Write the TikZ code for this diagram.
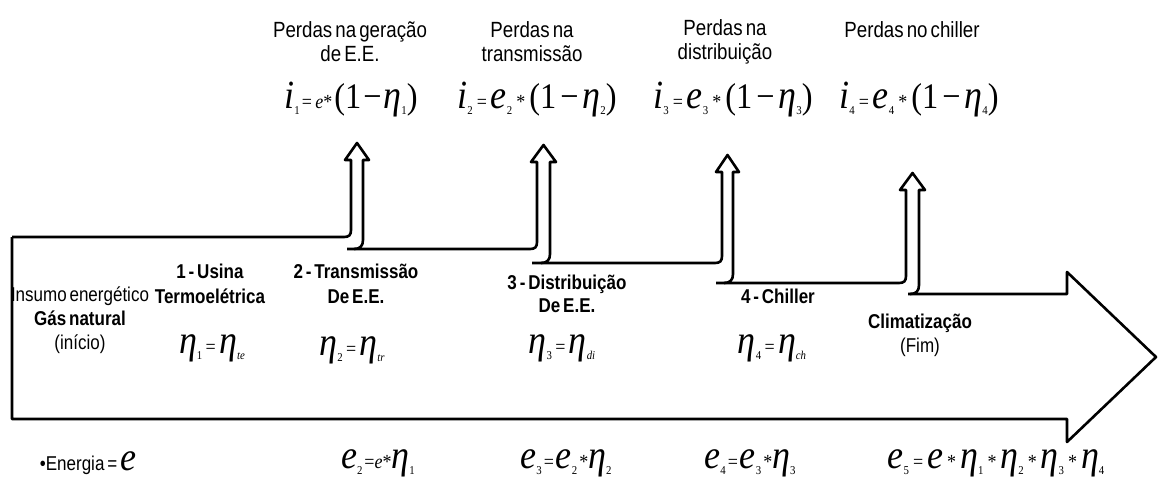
\documentclass[tikz,border=0pt]{standalone}
\usepackage{fontspec}
\setmainfont{Liberation Sans}
\newfontfamily\nar[FakeStretch=0.85,WordSpace=0.6]{Liberation Sans}
\newfontfamily\serf[FakeStretch=0.9]{Liberation Serif}
\newcommand\bv[1]{{\fontsize{40}{40}\selectfont\serf\itshape #1}}
\newcommand\bu[1]{{\fontsize{36}{36}\selectfont\serf #1}}
\newcommand\sv[1]{{\fontsize{20}{20}\selectfont\serf #1}}
\newcommand\sbs[1]{\raisebox{-6pt}{\fontsize{12}{12}\selectfont\serf #1}}
\newcommand\gp{\hspace{2pt}}
\newcommand\gq{\hspace{4pt}}
\newcommand\stemarrow[6]{%
 \draw[ol] (#1,#2) -- ({#3-7},#2) .. controls ({#3-2},#2) and (#3,{#2-2}) .. (#3,{#2-7})
   -- (#3,{#5+17}) -- ({#3-6},{#5+17}) -- ({(#3+#4)/2},#5) -- ({#4+6},{#5+17}) -- (#4,{#5+17})
   -- (#4,{#6-9}) .. controls (#4,{#6-3}) and ({#4-3},#6) .. ({#4-9},#6);}
\begin{document}
\begin{tikzpicture}[x=1pt,y=-1pt,
  ol/.style={line width=2.6pt, line join=round},
  lbl/.style={font=\nar\fontsize{20}{24}\selectfont, align=center, inner sep=0pt},
  top/.style={font=\nar\fontsize{22}{24}\selectfont, align=center, inner sep=0pt},
  ttl/.style={font=\nar\bfseries\fontsize{20}{25}\selectfont, align=center, inner sep=0pt},
  eq/.style={inner sep=0pt}]
\useasboundingbox (0,0) rectangle (1158,488);
% body
\draw[ol] (908,294) -- (1067,294) -- (1067,272) -- (1156,357) -- (1067,442) -- (1067,419) -- (12,419) -- (12,237);
\stemarrow{12}{237}{351}{363}{143}{249}
\stemarrow{347}{249}{537}{550}{145}{263}
\stemarrow{532}{263}{722}{733}{155}{283}
\stemarrow{716}{283}{906}{919}{173}{294}
% top labels
\node[top] (p1) at (350,42) {Perdas na geração\\de E.E.};
\node[top] (p2) at (532,42) {Perdas na\\transmissão};
\node[top] (p3) at (725,42) {Perdas na\\distribuição};
\node[top] (p4) at (912,30) {Perdas no chiller};
% loss formulas
\node[eq] (i1) at (351,100) {\bv{i}\sbs{1}\gp\sv{=\,\itshape e\upshape *}\gp\bu{(1\gp−}\gp\bv{η}\sbs{1}\bu{)}};
\node[eq] (i2) at (537,100) {\bv{i}\sbs{2}\gq\sv{=}\gq\bv{e}\sbs{2}\gq\sv{*}\gq\bu{(1\gq−}\gq\bv{η}\sbs{2}\bu{)}};
\node[eq] (i3) at (733,100) {\bv{i}\sbs{3}\gq\sv{=}\gq\bv{e}\sbs{3}\gq\sv{*}\gq\bu{(1\gq−}\gq\bv{η}\sbs{3}\bu{)}};
\node[eq] (i4) at (919,100) {\bv{i}\sbs{4}\gq\sv{=}\gq\bv{e}\sbs{4}\gq\sv{*}\gq\bu{(1\gq−}\gq\bv{η}\sbs{4}\bu{)}};
% stage texts
\node[lbl] (in) at (80,320) {Insumo energético\\{\bfseries Gás natural}\\(início)};
\node[ttl] (s1) at (210,284) {1 - Usina\\Termoelétrica};
\node[ttl] (s2) at (356,284) {2 - Transmissão\\De E.E.};
\node[ttl, font=\nar\bfseries\fontsize{20}{23}\selectfont] (s3) at (567,294) {3 - Distribuição\\De E.E.};
\node[ttl] (s4) at (778,296) {4 - Chiller};
\node[lbl] (s5) at (920,335) {{\bfseries Climatização}\\(Fim)};
% efficiencies
\node[eq] (h1) at (212,348) {\bv{η}\sbs{1}\sv{\,=\,}\bv{η}\sbs{\itshape te}};
\node[eq] (h2) at (352,350) {\bv{η}\sbs{2}\sv{\,=\,}\bv{η}\sbs{\itshape tr}};
\node[eq] (h3) at (562,348) {\bv{η}\sbs{3}\sv{\,=\,}\bv{η}\sbs{\itshape di}};
\node[eq] (h4) at (772,348) {\bv{η}\sbs{4}\sv{\,=\,}\bv{η}\sbs{\itshape ch}};
% energies
\node[eq] (en) at (88,463) {{\nar\fontsize{20}{20}\selectfont •Energia = }\bv{e}};
\node[eq] (e2) at (378,463) {\bv{e}\sbs{2}\gp\sv{=\itshape e\upshape *}\bv{η}\sbs{1}};
\node[eq] (e3) at (566,463) {\bv{e}\sbs{3}\gp\sv{=}\gp\bv{e}\sbs{2}\gp\sv{*}\bv{η}\sbs{2}};
\node[eq] (e4) at (750,463) {\bv{e}\sbs{4}\gp\sv{=}\gp\bv{e}\sbs{3}\gp\sv{*}\bv{η}\sbs{3}};
\node[eq] (e5) at (996,463) {\bv{e}\sbs{5}\gq\sv{=}\gq\bv{e}\gq\sv{*}\gq\bv{η}\sbs{1}\gq\sv{*}\gq\bv{η}\sbs{2}\gq\sv{*}\gq\bv{η}\sbs{3}\gq\sv{*}\gq\bv{η}\sbs{4}};
\end{tikzpicture}
\end{document}
